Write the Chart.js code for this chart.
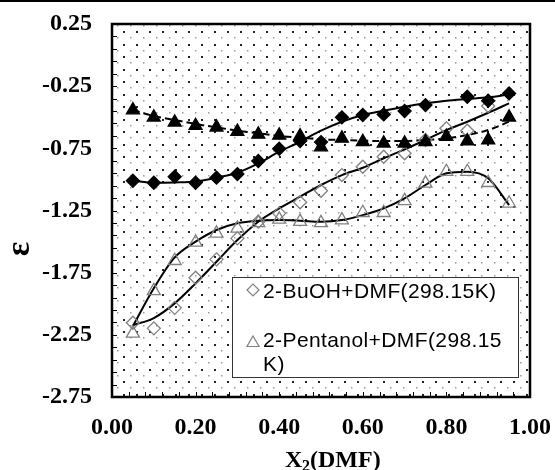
<!DOCTYPE html>
<html>
<head>
<meta charset="utf-8">
<script src="https://cdn.jsdelivr.net/npm/chart.js@4.4.1/dist/chart.umd.min.js"></script>
<style>
  html, body { margin: 0; padding: 0; background: #fff; }
  #wrap { width: 555px; height: 470px; position: relative; }
</style>
</head>
<body>
<div id="wrap"><canvas id="chart" width="555" height="470"></canvas></div>
<script>
// mole fraction of DMF
const xVals = [0.05, 0.10, 0.15, 0.20, 0.25, 0.30, 0.35, 0.40, 0.45, 0.50,
               0.55, 0.60, 0.65, 0.70, 0.75, 0.80, 0.85, 0.90, 0.95];

// measured points
const filledDiamond = [-1.011, -1.027, -0.978, -1.027, -0.986, -0.957, -0.852, -0.753, -0.691, -0.700,
                       -0.501, -0.482, -0.477, -0.450, -0.402, null, -0.335, -0.367, -0.308];
const filledTriangle = [-0.442, -0.501, -0.541, -0.568, -0.581, -0.616, -0.638, -0.646, -0.651, -0.740,
                        -0.670, -0.697, -0.710, -0.710, -0.697, -0.656, -0.691, -0.683, -0.501];
const buohDmf = [-2.153, -2.198, -2.033, -1.791, -1.643, -1.474, -1.340, -1.273, -1.184, -1.091,
                 -0.965, -0.898, -0.818, -0.790, -0.683, -0.589, -0.608, -0.410, null];
const pentanolDmf = [-2.238, -1.896, -1.654, -1.506, -1.434, -1.394, -1.349, -1.321, -1.340, -1.349,
                     -1.327, -1.268, -1.268, -1.172, -1.032, -0.938, -0.938, -1.027, -1.192];

// fitted curves, read along the same x values
const fitFilledDiamond = [-1.011, -1.027, -1.024, -1.016, -0.986, -0.946, -0.871, -0.777, -0.697, -0.608,
                          -0.536, -0.482, -0.447, -0.415, -0.388, -0.367, -0.353, -0.340, -0.316];
const fitFilledTriangle = [-0.442, -0.490, -0.522, -0.554, -0.581, -0.608, -0.629, -0.651, -0.664, -0.678,
                           -0.683, -0.689, -0.691, -0.691, -0.683, -0.670, -0.643, -0.603, -0.536];
const fitBuohDmf = [-2.172, -2.115, -1.997, -1.836, -1.662, -1.488, -1.340, -1.233, -1.139, -1.045,
                    -0.965, -0.906, -0.830, -0.758, -0.683, -0.603, -0.536, -0.464, -0.388];
const fitPentanolDmf = [-2.180, -1.876, -1.627, -1.501, -1.407, -1.353, -1.332, -1.327, -1.332, -1.340,
                        -1.327, -1.287, -1.233, -1.152, -1.045, -0.951, -0.938, -0.991, -1.206];

const xTicks = [0.00, 0.20, 0.40, 0.60, 0.80, 1.00];
const yTicks = [0.25, -0.25, -0.75, -1.25, -1.75, -2.25, -2.75];
const legendLines = [["2-BuOH+DMF(298.15K)"], ["2-Pentanol+DMF(298.15", "K)"]];

const serifBold = { family: "'Liberation Serif', 'Times New Roman', serif", size: 24, weight: "bold" };
const gray = "#808080";

function pts(ys) {
  return xVals.map((x, i) => ({ x: x, y: ys[i] }));
}

function markers(ys, style, fill, stroke, r) {
  return {
    type: "scatter", data: pts(ys), showLine: false, order: 0,
    pointStyle: style, pointRadius: r, pointBackgroundColor: fill,
    pointBorderColor: stroke, pointBorderWidth: 1.3
  };
}

function curve(ys, dash) {
  return {
    type: "line", data: pts(ys), order: 1, showLine: true,
    borderColor: "#000", borderWidth: 2, borderDash: dash || [],
    pointRadius: 0, cubicInterpolationMode: "monotone", fill: false
  };
}

// dotted plot background like the spreadsheet pattern
function makePattern(ctx) {
  let c = document.createElement("canvas");
  c.width = 26; c.height = 25;
  let p = c.getContext("2d");
  p.fillStyle = "#9a9a9a";
  p.fillRect(0, 0, 1.5, 1.5); p.fillRect(13, 0, 1.5, 1.5);
  p.fillRect(0, 12, 1.5, 1.5); p.fillRect(13, 12, 1.5, 1.5);
  p.fillStyle = "#222";
  p.fillRect(6, 6, 2, 2); p.fillRect(19, 6, 2, 2);
  p.fillRect(6, 19, 2, 2); p.fillRect(19, 19, 2, 2);
  return ctx.createPattern(c, "repeat");
}

const decor = {
  id: "decor",
  beforeDatasetsDraw(chart) {
    const { ctx, chartArea: a } = chart;
    ctx.save();
    ctx.fillStyle = makePattern(ctx);
    ctx.fillRect(a.left, a.top, a.right - a.left, a.bottom - a.top);
    ctx.restore();
  },
  afterDraw(chart) {
    const { ctx, chartArea: a, scales } = chart;
    ctx.save();
    // top rule of the figure
    ctx.fillStyle = "#000";
    ctx.fillRect(0, 0, 555, 2);

    // inner tick marks
    ctx.strokeStyle = "#000";
    ctx.lineWidth = 1;
    for (let v = 0.25; v >= -2.75 - 1e-9; v -= 0.1) {
      let y = Math.round(scales.y.getPixelForValue(v)) + 0.5;
      ctx.beginPath(); ctx.moveTo(a.left, y); ctx.lineTo(a.left + 5, y); ctx.stroke();
    }
    for (let v = 0; v <= 1 + 1e-9; v += 0.04) {
      let x = Math.round(scales.x.getPixelForValue(v)) + 0.5;
      ctx.beginPath(); ctx.moveTo(x, a.bottom); ctx.lineTo(x, a.bottom - 5); ctx.stroke();
    }

    // frame
    ctx.lineWidth = 2.5;
    ctx.strokeRect(a.left, a.top, a.right - a.left, a.bottom - a.top);

    // legend box
    ctx.fillStyle = "#fff";
    ctx.fillRect(232, 277, 286, 100);
    ctx.lineWidth = 1;
    ctx.strokeStyle = "#333";
    ctx.strokeRect(232.5, 277.5, 286, 100);

    ctx.strokeStyle = gray;
    ctx.fillStyle = "rgba(0,0,0,0)";
    ctx.lineWidth = 1.2;
    Chart.helpers.drawPoint(ctx, { pointStyle: "rectRot", radius: 6, borderWidth: 1.2 }, 253, 290);
    Chart.helpers.drawPoint(ctx, { pointStyle: "triangle", radius: 7, borderWidth: 1.2 }, 253, 343);

    ctx.fillStyle = "#000";
    ctx.font = "21px 'Liberation Sans', Arial, sans-serif";
    ctx.letterSpacing = "0.4px";
    ctx.textAlign = "left";
    ctx.textBaseline = "alphabetic";
    ctx.fillText(legendLines[0][0], 263, 298);
    ctx.fillText(legendLines[1][0], 263, 347);
    ctx.fillText(legendLines[1][1], 263, 371);
    ctx.letterSpacing = "0px";

    // axis titles
    ctx.font = "bold 24px 'Liberation Serif', 'Times New Roman', serif";
    ctx.fillText("X", 285, 467);
    ctx.font = "bold 16px 'Liberation Serif', 'Times New Roman', serif";
    ctx.fillText("2", 302, 471);
    ctx.font = "bold 24px 'Liberation Serif', 'Times New Roman', serif";
    ctx.fillText("(DMF)", 310, 467);

    ctx.translate(20, 249);
    ctx.rotate(-Math.PI / 2);
    ctx.textAlign = "center";
    ctx.textBaseline = "middle";
    ctx.font = "bold 34px 'Liberation Serif', 'Times New Roman', serif";
    ctx.fillText("\u03b5", 0, 0);
    ctx.restore();
  }
};

new Chart(document.getElementById("chart"), {
  data: {
    datasets: [
      curve(fitFilledDiamond),
      curve(fitFilledTriangle, [7, 4]),
      curve(fitBuohDmf),
      curve(fitPentanolDmf),
      markers(filledDiamond, "rectRot", "#000", "#000", 6.5),
      markers(filledTriangle, "triangle", "#000", "#000", 7.5),
      markers(buohDmf, "rectRot", "rgba(0,0,0,0)", gray, 6.5),
      markers(pentanolDmf, "triangle", "rgba(0,0,0,0)", gray, 7.5)
    ]
  },
  options: {
    responsive: false,
    animation: false,
    events: [],
    layout: { padding: { left: 0, right: 25, top: 24, bottom: 0 } },
    plugins: { legend: { display: false }, tooltip: { enabled: false } },
    scales: {
      x: {
        type: "linear", min: 0, max: 1,
        afterBuildTicks: (s) => { s.ticks = xTicks.map((v) => ({ value: v })); },
        afterFit: (s) => { s.height = 73; s.paddingLeft = 0; s.paddingRight = 0; },
        grid: { display: false }, border: { display: false },
        ticks: { font: serifBold, color: "#000", padding: 8, maxRotation: 0, autoSkip: false,
                 callback: (v) => v.toFixed(2) }
      },
      y: {
        type: "linear", min: -2.75, max: 0.25,
        afterBuildTicks: (s) => { s.ticks = yTicks.map((v) => ({ value: v })); },
        afterFit: (s) => { s.width = 112; s.paddingTop = 0; s.paddingBottom = 0; },
        grid: { display: false }, border: { display: false },
        ticks: { font: serifBold, color: "#000", padding: 12, autoSkip: false,
                 callback: (v) => v.toFixed(2) }
      }
    }
  },
  plugins: [decor]
});
</script>
</body>
</html>
